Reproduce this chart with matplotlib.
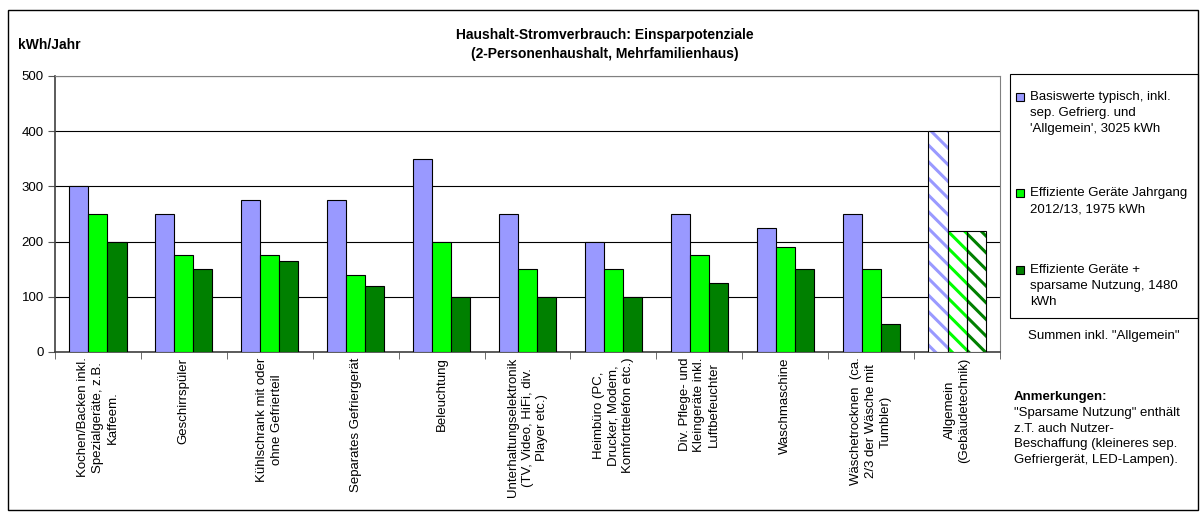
import matplotlib
matplotlib.use("Agg")
import matplotlib.pyplot as plt
from matplotlib.patches import Rectangle
import numpy as np

plt.rcParams['font.family'] = ['Liberation Sans', 'DejaVu Sans']
plt.rcParams['hatch.linewidth'] = 2.2

kategorien = [
    "Kochen/Backen inkl.\nSpezialgeräte, z.B.\nKaffeem.",
    "Geschirrspüler",
    "Kühlschrank mit oder\nohne Gefrierteil",
    "Separates Gefriergerät",
    "Beleuchtung",
    "Unterhaltungselektronik\n(TV, Video, HiFi, div.\nPlayer etc.)",
    "Heimbüro (PC,\nDrucker, Modem,\nKomforttelefon etc.)",
    "Div. Pflege- und\nKleingeräte inkl.\nLuftbefeuchter",
    "Waschmaschine",
    "Wäschetrocknen  (ca.\n2/3 der Wäsche mit\nTumbler)",
    "Allgemein\n(Gebäudetechnik)",
]
basis = [300, 250, 275, 275, 350, 250, 200, 250, 225, 250, 400]
effizient = [250, 175, 175, 140, 200, 150, 150, 175, 190, 150, 220]
sparsam = [200, 150, 165, 120, 100, 100, 100, 125, 150, 50, 220]

serien_namen = [
    ["Basiswerte typisch, inkl.", "sep. Gefrierg. und", "'Allgemein', 3025 kWh"],
    ["Effiziente Geräte Jahrgang", "2012/13, 1975 kWh"],
    ["Effiziente Geräte +", "sparsame Nutzung, 1480", "kWh"],
]
farben = ["#9999FF", "#00FF00", "#008000"]
y_ticks = [0, 100, 200, 300, 400, 500]

W, H = 1203, 519
fig = plt.figure(figsize=(W / 100, H / 100), dpi=100)


def fx(px):
    return px / W


def fy(py):
    return 1 - py / H


links, rechts, oben, unten = 55, 1000, 76, 352
ax = fig.add_axes([fx(links), fy(unten), fx(rechts - links), fy(oben) - fy(unten)])

x = np.arange(len(kategorien))
breite = 0.222
werte = [basis, effizient, sparsam]
n = len(kategorien)
for i, (reihe, farbe) in enumerate(zip(werte, farben)):
    pos = x[:-1] + (i - 1) * breite
    ax.bar(pos, reihe[:-1], breite, color=farbe, edgecolor="black", linewidth=0.8, zorder=3)
    # letzte Kategorie (Allgemein) schraffiert
    ax.bar(x[-1] + (i - 1) * breite, reihe[-1], breite, color="white", edgecolor=farbe,
           hatch="\\\\", linewidth=0, zorder=3)
    ax.bar(x[-1] + (i - 1) * breite, reihe[-1], breite, fill=False, edgecolor="black",
           linewidth=0.8, zorder=4)

ax.set_xlim(-0.5, n - 0.5)
ax.set_ylim(0, 500)
ax.set_yticks(y_ticks)
ax.set_yticklabels([str(v) for v in y_ticks], fontsize=9.5)
ax.yaxis.grid(True, color="black", linewidth=0.8, zorder=0)
ax.set_xticks(x)
ax.set_xticklabels(kategorien, rotation=90, ha="center", va="top", fontsize=9.5,
                   multialignment="center", linespacing=1.3)
ax.tick_params(axis="x", which="major", length=0, pad=4)
ax.set_xticks(np.arange(-0.5, n, 1), minor=True)
ax.tick_params(axis="x", which="minor", length=5, direction="out", color="#555555")
ax.tick_params(axis="y", length=5, direction="out", color="#555555", pad=3)
for s in ["top", "right"]:
    ax.spines[s].set_color("#808080")
for s in ["left", "bottom"]:
    ax.spines[s].set_color("#404040")
    ax.spines[s].set_linewidth(1.2)

# Titel und Achsenbeschriftung
fig.text(fx(605), fy(35), "Haushalt-Stromverbrauch: Einsparpotenziale", ha="center", va="center",
         fontsize=10, fontweight="bold")
fig.text(fx(605), fy(54), "(2-Personenhaushalt, Mehrfamilienhaus)", ha="center", va="center",
         fontsize=10, fontweight="bold")
fig.text(fx(18), fy(45), "kWh/Jahr", ha="left", va="center", fontsize=10, fontweight="bold")

# Legende
fig.patches.append(Rectangle((fx(1010), fy(318)), fx(188), fy(74) - fy(318), transform=fig.transFigure,
                             facecolor="white", edgecolor="black", linewidth=0.8))
start_y = [97, 193, 270]
for namen, farbe, y0 in zip(serien_namen, farben, start_y):
    fig.patches.append(Rectangle((fx(1016), fy(y0 + 4)), fx(8), fy(y0 - 4) - fy(y0 + 4),
                                 transform=fig.transFigure, facecolor=farbe,
                                 edgecolor="black", linewidth=0.8))
    for k, zeile in enumerate(namen):
        fig.text(fx(1030), fy(y0 + k * 16), zeile, ha="left", va="center", fontsize=9.5)

fig.text(fx(1028), fy(336), 'Summen inkl. "Allgemein"', ha="left", va="center", fontsize=9.5)

fig.text(fx(1014), fy(397), "Anmerkungen:", ha="left", va="center", fontsize=9.5, fontweight="bold")
anmerkungen = ['"Sparsame Nutzung" enthält', "z.T. auch Nutzer-", "Beschaffung (kleineres sep.",
               "Gefriergerät, LED-Lampen)."]
for k, zeile in enumerate(anmerkungen):
    fig.text(fx(1014), fy(413 + k * 15.5), zeile, ha="left", va="center", fontsize=9.5)

# Rahmen um die Grafik
fig.patches.append(Rectangle((fx(8), fy(510)), fx(1190), fy(10) - fy(510), transform=fig.transFigure,
                             fill=False, edgecolor="black", linewidth=1))

fig.savefig("out.png", dpi=100)
